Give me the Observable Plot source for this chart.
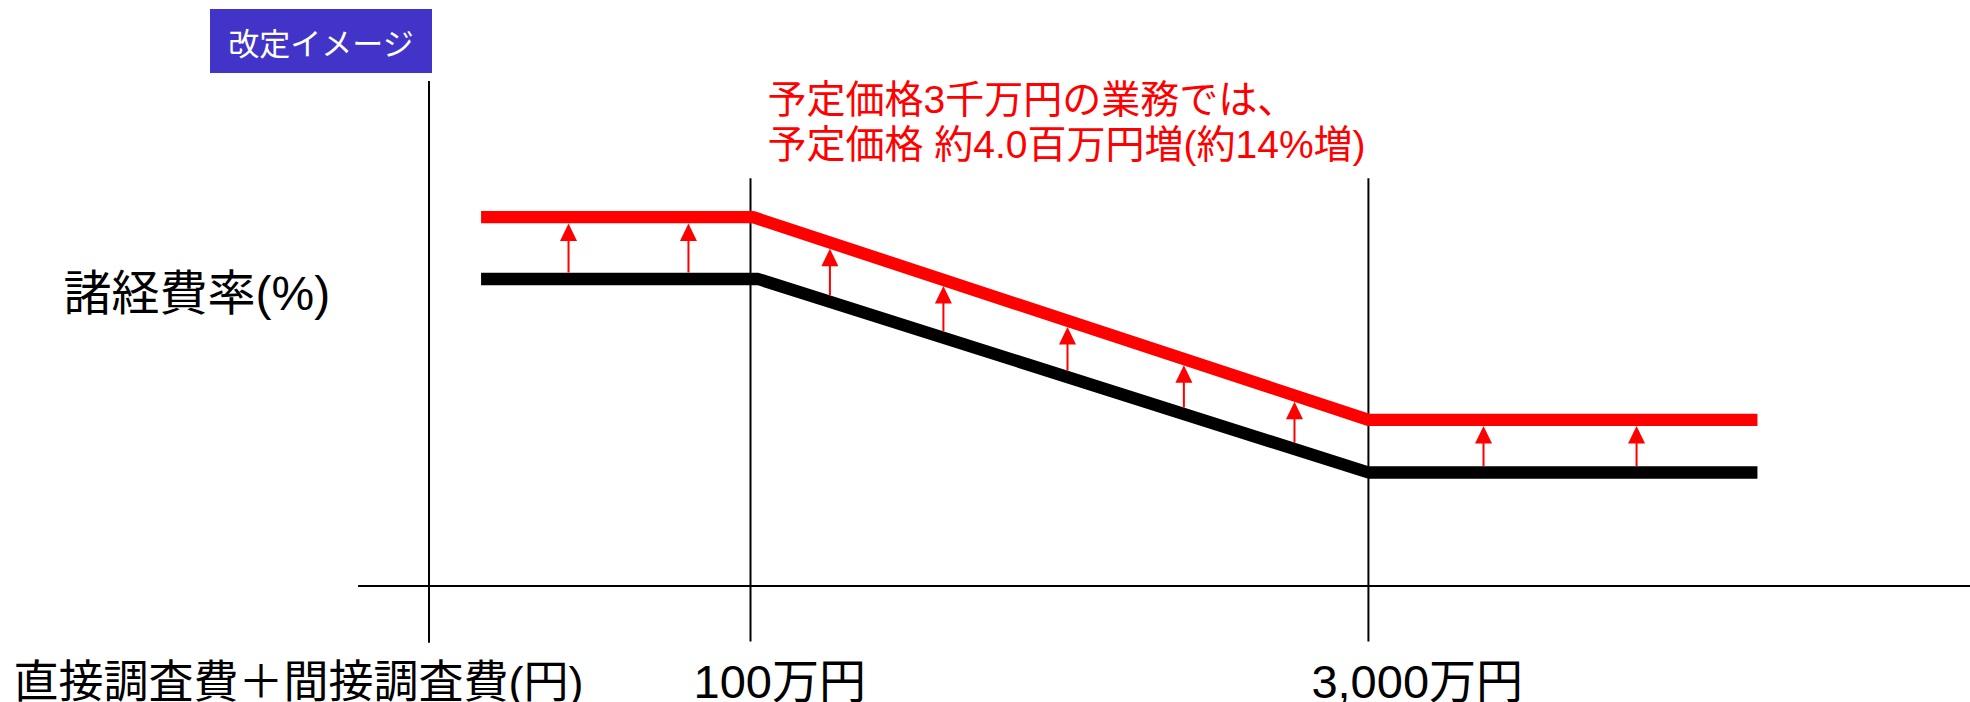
<!DOCTYPE html>
<html>
<head>
<meta charset="utf-8">
<script src="https://cdn.jsdelivr.net/npm/d3@7"></script>
<script src="https://cdn.jsdelivr.net/npm/@observablehq/plot@0.6"></script>
<style>
  html, body { margin: 0; padding: 0; background: #fff; }
  #wrap { position: relative; width: 1970px; height: 702px; overflow: hidden; background: #fff; }
  #wrap svg { position: absolute; left: 0; top: 0; }
  #badge {
    position: absolute; left: 210px; top: 9px; width: 222px; height: 64px;
    background: #4234C8; color: #fff; z-index: 2;
    font-family: "Noto Sans CJK JP", sans-serif; font-size: 31px;
    display: flex; align-items: center; justify-content: center; line-height: 1;
  }
</style>
</head>
<body>
<div id="wrap"><div id="badge"></div></div>
<script>
// ---------------- data (schematic units) ----------------
const badgeLabel = "改定イメージ";
const yTitle = "諸経費率(%)";
const xTitle = "直接調査費＋間接調査費(円)";
const annotationLines = ["予定価格3千万円の業務では、", "予定価格 約4.0百万円増(約14%増)"];

// x: schematic cost position (y-axis at 0), y: schematic overhead rate
const tickValues = [10, 29.22];
const tickLabels = ["100万円", "3,000万円"];

const currentX    = [1.62, 10.24, 29.22, 41.32];
const currentRate = [30.70, 30.70, 11.35, 11.35];
const revisedX    = [1.62, 10.08, 29.22, 41.32];
const revisedRate = [36.88, 36.88, 16.62, 16.62];

const arrowX    = [4.34, 8.07, 12.47, 16.00, 19.86, 23.48, 26.92, 32.80, 37.56];
const arrowFrom = [30.70, 30.70, 28.43, 24.83, 20.89, 17.20, 13.69, 11.35, 11.35];
const arrowTo   = [36.88, 36.88, 34.35, 30.61, 26.53, 22.70, 19.05, 16.62, 16.62];

const xAxisExtent = [-2.19, 47.95];   // horizontal axis line, in x units
const yAxisExtent = [-5.72, 50.45];   // vertical axis line, in rate units
const tickExtent  = [-5.60, 40.72];   // guide lines at the ticks, in rate units

// ---------------- tables built from the arrays ----------------
const current = currentX.map((x, i) => ({x, y: currentRate[i]}));
const revised = revisedX.map((x, i) => ({x, y: revisedRate[i]}));
const arrows = arrowX.map((x, i) => ({x, from: arrowFrom[i], to: arrowTo[i]}));

const arrowHead = {
  draw(context) {
    context.moveTo(0, 0);
    context.lineTo(8.5, 17.5);
    context.lineTo(-8.5, 17.5);
    context.closePath();
  }
};

document.getElementById("badge").textContent = badgeLabel;

const chart = Plot.plot({
  width: 1970,
  height: 702,
  margin: 0,
  x: {domain: [-13.328, 47.947], axis: null},
  y: {domain: [-11.65, 58.55], axis: null},
  style: {
    fontFamily: '"Liberation Sans", "Noto Sans CJK JP", sans-serif',
    background: "transparent",
    overflow: "visible",
    color: "#000"
  },
  marks: [
    // axes and guide lines
    Plot.ruleY([0], {x1: () => xAxisExtent[0], x2: () => xAxisExtent[1], stroke: "#000", strokeWidth: 2}),
    Plot.ruleX([0], {y1: () => yAxisExtent[1], y2: () => yAxisExtent[0], stroke: "#000", strokeWidth: 2}),
    Plot.ruleX(tickValues, {x: d => d, y1: () => tickExtent[1], y2: () => tickExtent[0], stroke: "#000", strokeWidth: 2}),

    // current (black) and revised (red) rate lines
    Plot.line(current, {x: "x", y: "y", stroke: "#000", strokeWidth: 12.3, strokeLinecap: "butt", strokeLinejoin: "miter"}),
    Plot.line(revised, {x: "x", y: "y", stroke: "#FF0000", strokeWidth: 12.3, strokeLinecap: "butt", strokeLinejoin: "miter"}),

    // increase arrows (shaft from black line's top edge up to the arrow head)
    Plot.ruleX(arrows, {x: "x", y1: "to", y2: "from", stroke: "#FF0000", strokeWidth: 2, insetTop: 20, insetBottom: 6}),
    Plot.dot(arrows, {x: "x", y: "to", symbol: arrowHead, fill: "#FF0000", stroke: "none", dy: 6.2}),

    // annotation
    Plot.text([annotationLines.join("\n")], {
      x: () => tickValues[0], text: d => d, frameAnchor: "top",
      dx: 17, dy: 157, textAnchor: "start", lineAnchor: "bottom",
      lineHeight: 1.154, fontSize: 39, fill: "#FF0000"
    }),

    // axis titles
    Plot.text([yTitle], {
      text: d => d, frameAnchor: "top-left", dx: 63, dy: 309,
      textAnchor: "start", lineAnchor: "bottom", fontSize: 48, fill: "#000"
    }),
    Plot.text([xTitle], {
      text: d => d, frameAnchor: "bottom-left", dx: 13, dy: -5,
      textAnchor: "start", lineAnchor: "bottom", fontSize: 45, fill: "#000"
    }),

    // tick labels
    Plot.text(tickValues, {
      x: d => d, text: (d, i) => tickLabels[i], frameAnchor: "bottom",
      dx: -57, dy: -5, textAnchor: "start", lineAnchor: "bottom", fontSize: 47, fill: "#000"
    })
  ]
});

document.getElementById("wrap").appendChild(chart);
</script>
</body>
</html>
